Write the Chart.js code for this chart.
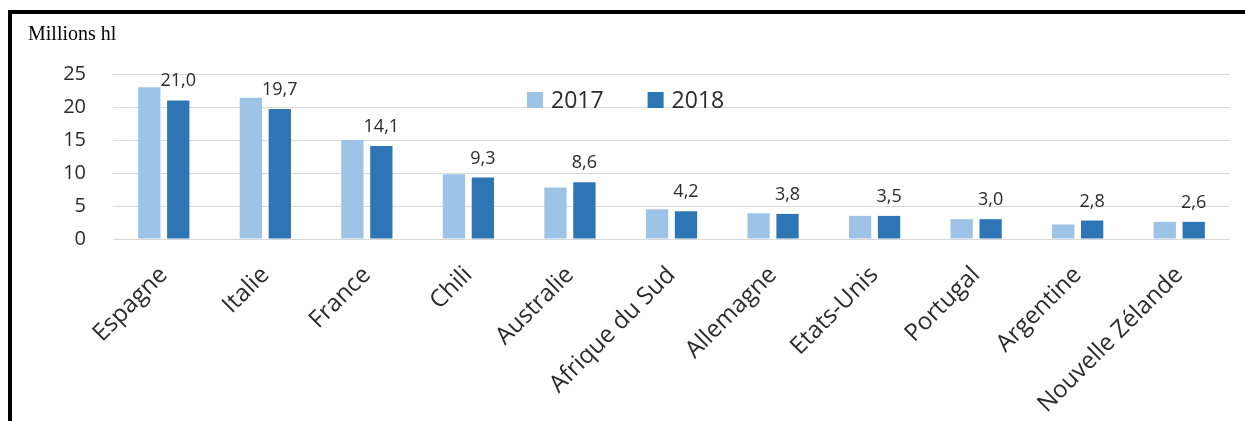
<!DOCTYPE html>
<html>
<head>
<meta charset="utf-8">
<title>Production de vin</title>
<script src="https://cdn.jsdelivr.net/npm/chart.js@4.4.1/dist/chart.umd.min.js"></script>
<style>
  html, body { margin: 0; padding: 0; background: #ffffff; }
  #wrap { position: relative; width: 1245px; height: 421px; overflow: hidden; }
  #wrap canvas { position: absolute; left: 0; top: 0; }
  /* black frame on the left and top edges */
  #frame {
    position: absolute; left: 8px; top: 10px; right: 0; bottom: 0;
    border-left: 4px solid #000; border-top: 4px solid #000;
    pointer-events: none;
  }
</style>
</head>
<body>
<div id="wrap">
  <canvas id="chart" width="1245" height="421"></canvas>
  <div id="frame"></div>
</div>
<script>
// Countries and volumes (millions of hectolitres)
const categories = ['Espagne', 'Italie', 'France', 'Chili', 'Australie', 'Afrique du Sud',
                    'Allemagne', 'Etats-Unis', 'Portugal', 'Argentine', 'Nouvelle Zélande'];
const seriesNames = ['2017', '2018'];
const values2017 = [23.0, 21.4, 15.0, 9.8, 7.8, 4.5, 3.9, 3.5, 3.0, 2.2, 2.6];
const values2018 = [21.0, 19.7, 14.1, 9.3, 8.6, 4.2, 3.8, 3.5, 3.0, 2.8, 2.6];
const yTicks = [0, 5, 10, 15, 20, 25];
const unitLabel = 'Millions hl';

const FONT = '"Open Sans", "Liberation Sans", sans-serif';
const TEXT = '#2b2b2b';

// Value labels above the bars of one dataset, written with a decimal comma
const valueLabels = {
  id: 'valueLabels',
  afterDatasetsDraw(chart, args, opts) {
    const ctx = chart.ctx;
    const ds = chart.data.datasets[opts.datasetIndex];
    const meta = chart.getDatasetMeta(opts.datasetIndex);
    ctx.save();
    ctx.font = opts.size + 'px ' + FONT;
    ctx.fillStyle = opts.color;
    ctx.textAlign = 'center';
    ctx.textBaseline = 'alphabetic';
    meta.data.forEach((bar, i) => {
      const txt = ds.data[i].toFixed(1).replace('.', ',');
      ctx.fillText(txt, bar.x, bar.y - opts.offset);
    });
    ctx.restore();
  }
};

// Legend drawn inside the plot, built from the datasets
const inlineLegend = {
  id: 'inlineLegend',
  afterDraw(chart, args, opts) {
    const ctx = chart.ctx;
    ctx.save();
    ctx.font = opts.size + 'px ' + FONT;
    ctx.textBaseline = 'middle';
    ctx.textAlign = 'left';
    let x = opts.x;
    chart.data.datasets.forEach(ds => {
      ctx.fillStyle = ds.backgroundColor;
      ctx.fillRect(x, opts.y - opts.box / 2, opts.box, opts.box);
      x += opts.box + opts.gap;
      ctx.fillStyle = opts.color;
      ctx.fillText(ds.label, x, opts.y + 1);
      x += ctx.measureText(ds.label).width + opts.spacing;
    });
    ctx.restore();
  }
};

new Chart(document.getElementById('chart'), {
  type: 'bar',
  data: {
    labels: categories,
    datasets: [
      { label: seriesNames[0], data: values2017, backgroundColor: '#9DC3E6' },
      { label: seriesNames[1], data: values2018, backgroundColor: '#2E75B6' }
    ]
  },
  plugins: [valueLabels, inlineLegend],
  options: {
    responsive: false,
    animation: false,
    devicePixelRatio: 1,
    categoryPercentage: 0.57,
    barPercentage: 0.77,
    layout: { padding: { top: 23, left: 28, right: 15, bottom: 0 } },
    plugins: {
      legend: { display: false },
      tooltip: { enabled: false },
      title: {
        display: true,
        text: unitLabel,
        align: 'start',
        color: '#000000',
        font: { family: '"Liberation Serif", "Times New Roman", serif', size: 20, weight: 'normal' },
        padding: { top: 0, bottom: 27 }
      },
      valueLabels: { datasetIndex: 1, size: 18, color: TEXT, offset: 14 },
      inlineLegend: { x: 527, y: 100, box: 16, gap: 8, spacing: 44, size: 23, color: TEXT }
    },
    scales: {
      x: {
        afterFit(scale) { scale.height = 182; },
        grid: { display: false },
        border: { display: false },
        ticks: {
          autoSkip: false,
          maxRotation: 45,
          minRotation: 45,
          padding: 14,
          color: TEXT,
          font: { family: FONT, size: 24 }
        }
      },
      y: {
        min: 0,
        max: 25,
        afterBuildTicks(scale) { scale.ticks = yTicks.map(v => ({ value: v })); },
        afterFit(scale) { scale.width = 85; },
        border: { display: false },
        grid: { color: '#D9D9D9', lineWidth: 1, drawTicks: false },
        ticks: {
          padding: 27,
          color: TEXT,
          font: { family: FONT, size: 20 }
        }
      }
    }
  }
});
</script>
</body>
</html>
